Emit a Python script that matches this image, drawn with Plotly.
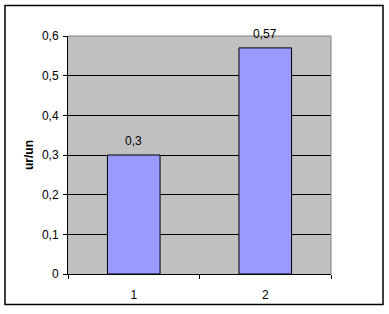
import plotly.graph_objects as go

categories = [1, 2]
values = [0.3, 0.57]
value_labels = ["0,3", "0,57"]
y_title = "ur/un"

W, H = 389, 314
ml, mr, mt, mb = 68, 58, 36, 37
pw, ph = W - ml - mr, H - mt - mb

font = "Liberation Sans, Arial, sans-serif"

fig = go.Figure()
fig.add_trace(go.Bar(
    x=categories, y=values,
    marker=dict(color="#9999FF", line=dict(color="black", width=1)),
    hoverinfo="skip",
))
# invisible trace to hold secondary x axis (category boundary ticks)
fig.add_trace(go.Scatter(x=[0.5], y=[0], xaxis="x2", mode="markers",
                         marker=dict(opacity=0), hoverinfo="skip", showlegend=False))

annotations = [
    dict(x=c, y=v, text=t, xref="x", yref="y", showarrow=False,
         yanchor="bottom", yshift=5, font=dict(family=font, size=12, color="black"))
    for c, v, t in zip(categories, values, value_labels)
]

fig.update_layout(
    width=W, height=H,
    margin=dict(l=ml, r=mr, t=mt, b=mb, pad=0),
    paper_bgcolor="white", plot_bgcolor="#C0C0C0",
    separators=", ",
    showlegend=False,
    bargap=0.6,
    font=dict(family=font, size=12, color="black"),
    xaxis=dict(range=[0.5, 2.5], tickvals=categories, ticktext=[str(c) for c in categories],
               ticks="", showgrid=False, zeroline=False,
               showline=True, linecolor="black", linewidth=1,
               ticklabelstandoff=10, tickfont=dict(size=12)),
    xaxis2=dict(range=[0.5, 2.5], overlaying="x", side="bottom", anchor="y",
                tickvals=[0.5, 1.5, 2.5], ticktext=["", "", ""],
                ticks="outside", ticklen=4, tickcolor="black", tickwidth=1,
                showgrid=False, zeroline=False, showline=False),
    yaxis=dict(range=[0, 0.6], dtick=0.1, tick0=0,
               ticks="outside", ticklen=4, tickcolor="black", tickwidth=1,
               showgrid=True, gridcolor="black", gridwidth=1,
               zeroline=False, showline=True, linecolor="black", linewidth=1,
               ticklabelstandoff=2, tickfont=dict(size=12),
               title=dict(text="<b>" + y_title + "</b>", standoff=5,
                          font=dict(size=12))),
    annotations=annotations,
    shapes=[
        # plot area border (top/right) in gray
        dict(type="path", xref="paper", yref="paper",
             path="M 0 1 L 1 1 L 1 0", line=dict(color="#808080", width=1), layer="above"),
        # outer chart border
        dict(type="rect", xref="paper", yref="paper",
             x0=(5 - ml) / pw, x1=(383 - ml) / pw,
             y0=(H - 308 - mb) / ph, y1=(H - 5 - mb) / ph,
             line=dict(color="black", width=1.5), layer="above"),
    ],
)

fig.write_html("out.html")
